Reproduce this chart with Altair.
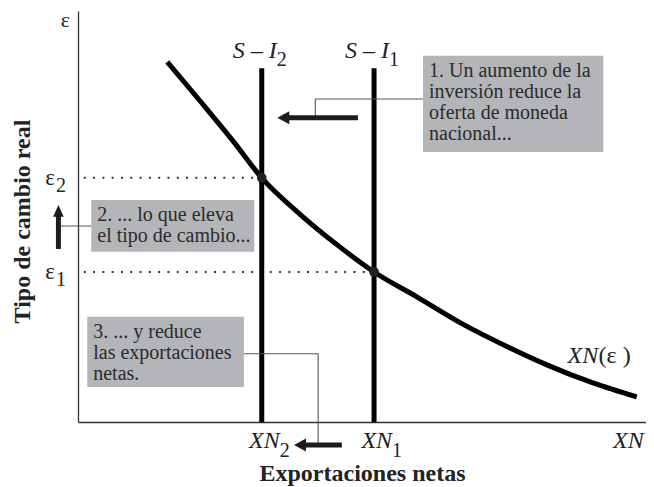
import altair as alt
import pandas as pd
import numpy as np

# ---------------- data ----------------
# horizontal axis runs 0..~9.86, vertical axis 0..10
curve_x = [1.55, 2.12, 2.69, 3.19, 3.85, 4.50, 5.14, 5.89, 6.68, 7.50, 8.14, 8.94, 9.70]
curve_y = [8.76, 7.81, 6.84, 5.94, 5.06, 4.31, 3.65, 3.04, 2.38, 1.80, 1.39, 0.95, 0.61]

xn_values = [3.19, 5.14]          # XN2, XN1  (S - I2, S - I1)
eps_values = [5.94, 3.65]         # eps2, eps1
subs = ["2", "1"]
si_top = [8.61, 8.61]
dot_start = [0.1, 0.1]

box_text = [
    "1. Un aumento de la\ninversión reduce la\noferta de moneda\nnacional...",
    "2. ... lo que eleva\nel tipo de cambio...",
    "3. ... y reduce\nlas exportaciones\nnetas.",
]
box_x = [5.99, 0.23, 0.16]
box_x2 = [9.12, 3.06, 2.88]
box_top = [8.91, 5.40, 2.56]
box_bottom = [6.57, 4.14, 0.85]

arrow_tail_x = [4.86, -0.34, 4.58]
arrow_tail_y = [7.40, 4.21, -0.56]
arrow_tip_x = [3.46, -0.34, 3.75]
arrow_tip_y = [7.40, 5.28, -0.56]

conn_id = [1, 1, 1, 2, 2, 3, 3, 3]
conn_seq = [0, 1, 2, 0, 1, 0, 1, 2]
conn_x = [5.99, 4.12, 4.12, 0.23, -0.34, 2.88, 4.17, 4.17]
conn_y = [7.86, 7.86, 7.40, 4.77, 4.77, 1.66, 1.66, -0.56]

eps_top_label = ["ε"]
xn_end_label = ["XN"]
xn_end_x = [9.29]
curve_label_x = [8.5]
curve_label_y = [1.44]

# ---------------- helpers ----------------
SERIF = "Liberation Serif"
INK = "#1c1c1c"
TXT = "#2b2b2b"

xs = alt.Scale(domain=[0, 9.861], nice=False, zero=False)
ys = alt.Scale(domain=[0, 10], nice=False, zero=False)
x_axis = alt.Axis(title="Exportaciones netas", domain=True, domainColor="#333",
                  domainWidth=1.3, ticks=False, labels=False, grid=False,
                  titleFont=SERIF, titleFontSize=24, titleFontWeight="bold",
                  titleColor="#222", titleBaseline="alphabetic", titleY=58)
y_axis = alt.Axis(title="Tipo de cambio real", domain=True, domainColor="#333",
                  domainWidth=1.3, ticks=False, labels=False, grid=False,
                  titleFont=SERIF, titleFontSize=24, titleFontWeight="bold",
                  titleColor="#222", titleBaseline="alphabetic", titleAngle=270,
                  titleAlign="center", titleX=-49, titleY=210)


def X(f):
    return alt.X(f, type="quantitative", scale=xs, axis=x_axis)


def Y(f):
    return alt.Y(f, type="quantitative", scale=ys, axis=y_axis)


# ---------------- frames ----------------
curve_df = pd.DataFrame({"x": curve_x, "y": curve_y, "i": range(len(curve_x))})
lines_df = pd.DataFrame({"x": xn_values, "y0": [0.0, 0.0], "y1": si_top, "eps": eps_values,
                         "x0": dot_start, "sub": subs})
box_df = pd.DataFrame({"x": box_x, "x2": box_x2, "y": box_top, "y2": box_bottom, "t": box_text})
arr = pd.DataFrame({"x": arrow_tail_x, "y": arrow_tail_y, "tx": arrow_tip_x, "ty": arrow_tip_y})
dx = np.sign(arr.tx - arr.x)
dy = np.sign(arr.ty - arr.y)
arr["sx"] = arr.tx - dx * 0.17
arr["sy"] = arr.ty - dy * 0.24
arr["dir"] = np.where(dx != 0, "h", "v")
conn_df = pd.DataFrame({"id": conn_id, "seq": conn_seq, "x": conn_x, "y": conn_y})

# ---------------- layers ----------------
boxes = alt.Chart(box_df).mark_rect(color="#b3b5b8").encode(
    x=X("x"), x2="x2", y=Y("y"), y2="y2")

dots = alt.Chart(lines_df).mark_rule(color="#333", strokeWidth=2, strokeDash=[2, 7.3]).encode(
    x=X("x0"), x2="x", y=Y("eps"))

vlines = alt.Chart(lines_df).mark_rule(color="#000", strokeWidth=5).encode(
    x=X("x"), y=Y("y0"), y2="y1")

curve = alt.Chart(curve_df).mark_line(color="#000", strokeWidth=5, interpolate="monotone").encode(
    x=X("x"), y=Y("y"), order="i")

pts = alt.Chart(lines_df).mark_point(filled=True, color="#222", size=95, opacity=1).encode(
    x=X("x"), y=Y("eps"))

conns = alt.Chart(conn_df).mark_line(color="#555", strokeWidth=1.1).encode(
    x=X("x"), y=Y("y"), detail="id:N", order="seq")

shafts = alt.Chart(arr).mark_rule(color=INK, strokeWidth=5).encode(
    x=X("x"), x2="sx", y=Y("y"), y2="sy")

heads_h = alt.Chart(arr).transform_filter(alt.datum.dir == "h").mark_point(
    shape="M0,0L1.85,-1L1.85,1Z", size=169, filled=True, color=INK, opacity=1, strokeWidth=0
).encode(x=X("tx"), y=Y("ty"))

heads_v = alt.Chart(arr).transform_filter(alt.datum.dir == "v").mark_point(
    shape="M0,0L-1,2.2L1,2.2Z", size=112, filled=True, color=INK, opacity=1, strokeWidth=0
).encode(x=X("tx"), y=Y("ty"))

box_txt = alt.Chart(box_df).mark_text(
    align="left", baseline="alphabetic", dx=6, dy=21, lineBreak="\n", lineHeight=21,
    font=SERIF, fontSize=20, color=TXT
).encode(x=X("x"), y=Y("y"), text="t:N")

# epsilon labels on the vertical axis
eps_df = pd.DataFrame({"x": [0.0, 0.0], "y": eps_values, "e": ["ε", "ε"], "sub": subs})
eps_main = alt.Chart(eps_df).mark_text(align="right", baseline="alphabetic", dx=-23, dy=7,
                                       font=SERIF, fontSize=23, color="#222").encode(
    x=X("x"), y=Y("y"), text="e:N")
eps_sub = alt.Chart(eps_df).mark_text(align="left", baseline="alphabetic", dx=-22, dy=14,
                                      font=SERIF, fontSize=20, color="#222").encode(
    x=X("x"), y=Y("y"), text="sub:N")
eps_top = alt.Chart(pd.DataFrame({"x": [0.0], "y": [10.0], "e": eps_top_label})).mark_text(
    align="right", baseline="middle", dx=-8, dy=9, font=SERIF, fontSize=22, color="#222"
).encode(x=X("x"), y=Y("y"), text="e:N")

# S - I labels above the vertical lines
si_df = lines_df.assign(lab="S – I")
si_main = alt.Chart(si_df).mark_text(align="right", baseline="alphabetic", dx=15, dy=-10,
                                     font=SERIF, fontSize=24, fontStyle="italic", color="#222").encode(
    x=X("x"), y=Y("y1"), text="lab:N")
si_sub = alt.Chart(si_df).mark_text(align="left", baseline="alphabetic", dx=15, dy=-2,
                                    font=SERIF, fontSize=20, color="#222").encode(
    x=X("x"), y=Y("y1"), text="sub:N")

# XN labels under the horizontal axis
xn_df = lines_df.assign(lab="XN")
xn_main = alt.Chart(xn_df).mark_text(align="right", baseline="alphabetic", dx=18, dy=26,
                                     font=SERIF, fontSize=24, fontStyle="italic", color="#222").encode(
    x=X("x"), y=Y("y0"), text="lab:N")
xn_sub = alt.Chart(xn_df).mark_text(align="left", baseline="alphabetic", dx=18, dy=35,
                                    font=SERIF, fontSize=20, color="#222").encode(
    x=X("x"), y=Y("y0"), text="sub:N")
xn_end = alt.Chart(pd.DataFrame({"x": xn_end_x, "y": [0.0], "lab": xn_end_label})).mark_text(
    align="left", baseline="alphabetic", dy=26, font=SERIF, fontSize=24, fontStyle="italic",
    color="#222").encode(x=X("x"), y=Y("y"), text="lab:N")

cl_df = pd.DataFrame({"x": curve_label_x, "y": curve_label_y, "a": ["XN"], "b": ["(ε )"]})
cl_a = alt.Chart(cl_df).mark_text(align="left", baseline="alphabetic", font=SERIF, fontSize=24,
                                  fontStyle="italic", color="#222").encode(
    x=X("x"), y=Y("y"), text="a:N")
cl_b = alt.Chart(cl_df).mark_text(align="left", baseline="alphabetic", dx=31, font=SERIF,
                                  fontSize=24, color="#222").encode(
    x=X("x"), y=Y("y"), text="b:N")

chart = alt.layer(
    boxes, dots, vlines, curve, pts, conns, shafts, heads_h, heads_v,
    box_txt, eps_main, eps_sub, eps_top, si_main, si_sub, xn_main, xn_sub, xn_end, cl_a, cl_b
).properties(
    width=568, height=411,
    padding={"left": 70, "top": 3, "right": 0, "bottom": 65},
    autosize=alt.AutoSizeParams(type="none"),
    background="white",
).configure_view(stroke=None)

chart.save("out.html", embed_options={"renderer": "svg", "actions": False})
